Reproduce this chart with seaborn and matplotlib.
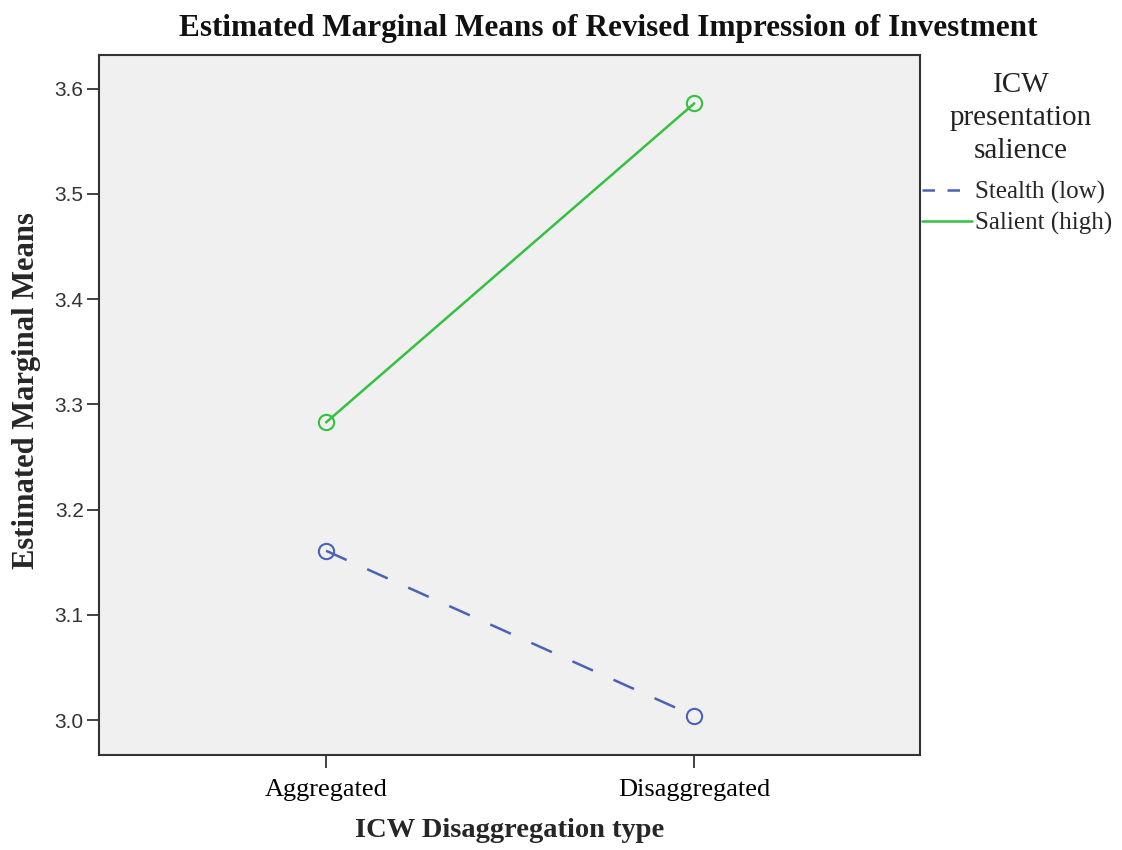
import matplotlib
matplotlib.use("Agg")
import matplotlib.pyplot as plt
from matplotlib.lines import Line2D
import seaborn as sns
import pandas as pd

categories = ["Aggregated", "Disaggregated"]
groups = ["Stealth (low)", "Salient (high)"]
stealth_values = [3.161, 3.004]
salient_values = [3.283, 3.586]
colors = ["#4A63B8", "#35C040"]

df = pd.DataFrame({
    "type": categories * 2,
    "group": [groups[0]] * 2 + [groups[1]] * 2,
    "mean": stealth_values + salient_values,
})

sns.set_theme(style="white")
plt.rcParams["font.family"] = ["Liberation Serif", "DejaVu Serif"]

fig = plt.figure(figsize=(11.22, 8.5), dpi=100)
ax = fig.add_axes([0.0882, 0.1118, 0.732, 0.8235])
ax.set_facecolor("#F0F0F0")

sns.pointplot(data=df, x="type", y="mean", hue="group", hue_order=groups,
              order=categories, palette=colors, markers="o",
              linestyles=["--", "-"], errorbar=None, ax=ax, legend=False)

for ln in ax.lines:
    ln.set_markerfacecolor("none")
    ln.set_markersize(11)
    ln.set_markeredgewidth(1.5)
    ln.set_linewidth(1.8)
    if ln.get_linestyle() == "--":
        ln.set_dashes([9, 9])

ax.set_xlim(-0.617, 1.614)
ax.set_ylim(2.967, 3.632)
ax.set_yticks([3.0, 3.1, 3.2, 3.3, 3.4, 3.5, 3.6])
ax.set_yticklabels(["3.0", "3.1", "3.2", "3.3", "3.4", "3.5", "3.6"],
                   family=["Liberation Sans", "DejaVu Sans"], fontsize=15)
ax.tick_params(axis="x", labelsize=19, length=9, width=1.2, colors="#222222",
               direction="out", bottom=True, pad=8)
ax.tick_params(axis="y", length=9, width=1.2, colors="#222222",
               direction="out", left=True, pad=2)
for lab in ax.get_xticklabels():
    lab.set_color("black")
for lab in ax.get_yticklabels():
    lab.set_color("#333333")
for s in ax.spines.values():
    s.set_color("#333333")
    s.set_linewidth(1.5)
    s.set_visible(True)

ax.set_xlabel("ICW Disaggregation type", fontsize=20.5, fontweight="bold")
ax.xaxis.set_label_coords(0.5, -0.108)
ax.xaxis.label.set_va("center")
ax.set_ylabel("Estimated Marginal Means", fontsize=22, fontweight="bold")
ax.yaxis.set_label_coords(-0.070, 0.52)
fig.text(0.542, 0.966, "Estimated Marginal Means of Revised Impression of Investment",
         fontsize=22.5, fontweight="bold", ha="center", va="center", color="#111111")

fig.text(0.910, 0.861, "ICW\npresentation\nsalience", fontsize=21,
         ha="center", va="center", linespacing=1.35, color="#222222")

handles = [Line2D([0], [0], color=colors[0], lw=1.8, dashes=[5, 5]),
           Line2D([0], [0], color=colors[1], lw=1.8)]
leg = fig.legend(handles, groups, loc="upper left",
                 bbox_to_anchor=(0.822, 0.787), frameon=False,
                 fontsize=18, handlelength=2.0, handletextpad=0.1,
                 borderaxespad=0, borderpad=0, labelspacing=0.33)

fig.savefig("out.png", dpi=100)
